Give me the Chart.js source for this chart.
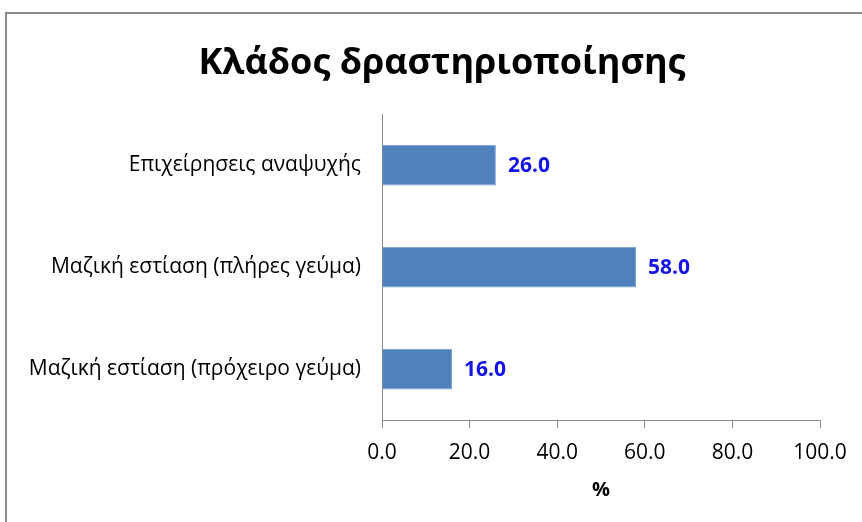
<!doctype html>
<html lang="el">
<head>
<meta charset="utf-8">
<title>Κλάδος δραστηριοποίησης</title>
<script src="https://cdn.jsdelivr.net/npm/chart.js"></script>
<style>
  html, body { margin: 0; padding: 0; background: #fff; overflow: hidden; }
  #frame { position: absolute; left: 5px; top: 12px; width: 900px; height: 600px; border: 2px solid #8a8a8a; }
  #chart { position: absolute; left: 0; top: 0; }
</style>
</head>
<body>
<div id="frame"></div>
<canvas id="chart" width="862" height="522"></canvas>
<script>
const categories = [
  'Επιχείρησεις αναψυχής',
  'Μαζική εστίαση (πλήρες γεύμα)',
  'Μαζική εστίαση (πρόχειρο γεύμα)',
]
const values = [26.0, 58.0, 16.0]
const xMin = 0
const xMax = 100
const xStep = 20

const FONT = '"Open Sans", "Noto Sans", sans-serif'

// value labels at the end of each bar
const valueLabels = {
  id: 'valueLabels',
  afterDatasetsDraw(chart) {
    const ctx = chart.ctx
    const meta = chart.getDatasetMeta(0)
    ctx.save()
    ctx.font = 'bold 21px ' + FONT
    ctx.fillStyle = '#1414E6'
    ctx.textBaseline = 'middle'
    meta.data.forEach((bar, i) => {
      ctx.fillText(values[i].toFixed(1), bar.x + 12, bar.y + 1)
    })
    ctx.restore()
  },
}

// the original title sits a bit right of centre
const shiftTitle = {
  id: 'shiftTitle',
  afterLayout(chart) {
    if (chart.titleBlock) chart.titleBlock.left = 64
  },
}

new Chart(document.getElementById('chart'), {
  type: 'bar',
  data: {
    labels: categories,
    datasets: [{
      data: values,
      backgroundColor: '#4F81BD',
      borderColor: '#7A9FCF',
      borderWidth: 1,
      barPercentage: 0.4,
      categoryPercentage: 1,
    }],
  },
  plugins: [valueLabels, shiftTitle],
  options: {
    indexAxis: 'y',
    responsive: false,
    animation: false,
    devicePixelRatio: 1,
    layout: { padding: { top: 32, right: 42, bottom: 16, left: 0 } },
    plugins: {
      legend: { display: false },
      tooltip: { enabled: false },
      title: {
        display: true,
        text: 'Κλάδος δραστηριοποίησης',
        color: '#000',
        font: { family: FONT, size: 36, weight: 'bold' },
        padding: { top: 10, bottom: 29 },
      },
    },
    scales: {
      x: {
        min: xMin,
        max: xMax,
        ticks: {
          stepSize: xStep,
          color: '#000',
          padding: 12,
          font: { family: FONT, size: 21 },
          callback: (v) => Number(v).toFixed(1),
        },
        grid: { drawOnChartArea: false, tickLength: 8, color: '#8a8a8a' },
        border: { color: '#8a8a8a' },
        title: {
          display: true,
          text: '%',
          color: '#000',
          font: { family: FONT, size: 20, weight: 'bold' },
          padding: { top: 12, bottom: 4 },
        },
        afterFit: (scale) => { scale.height = 86 },
      },
      y: {
        ticks: {
          color: '#000',
          padding: 21,
          font: { family: FONT, size: 21 },
        },
        grid: { display: false, drawTicks: false },
        border: { color: '#8a8a8a' },
        afterFit: (scale) => { scale.width = 382 },
      },
    },
  },
})
</script>
</body>
</html>
